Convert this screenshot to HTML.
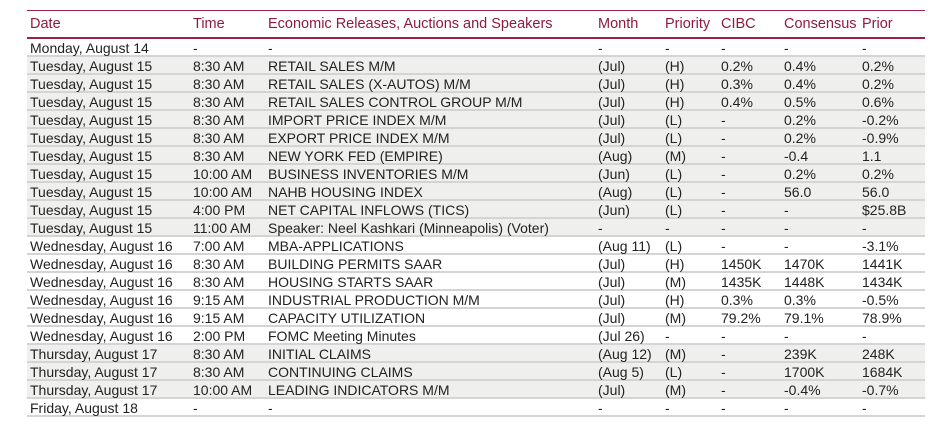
<!DOCTYPE html>
<html><head><meta charset="utf-8"><style>
body{margin:0;background:#fff;width:933px;height:431px;overflow:hidden;font-family:"Liberation Sans",sans-serif;}
.t{position:absolute;left:27px;top:10px;width:898px;border-top:1.5px solid #9b2246;}
.h{height:26px;border-bottom:2px solid #9b2246;position:relative;color:#8e1b3e;font-size:14.5px;}
.r{height:16px;border-bottom:2px solid #d4d4d4;position:relative;color:#222;font-size:14px;}
.g{background:#efefed;}
span{position:absolute;top:1px;white-space:nowrap;}
.h span{top:5px;}
.c1{left:3px}.c2{left:166px}.c3{left:241px}.c4{left:571px}.c5{left:638px}.c6{left:694px}.c7{left:757px}.c8{left:835px}
</style></head><body>
<div class="t">
<div class="h"><span class="c1">Date</span><span class="c2">Time</span><span class="c3">Economic Releases, Auctions and Speakers</span><span class="c4">Month</span><span class="c5">Priority</span><span class="c6">CIBC</span><span class="c7">Consensus</span><span class="c8">Prior</span></div>
<div class="r"><span class="c1">Monday, August 14</span><span class="c2">-</span><span class="c3">-</span><span class="c4">-</span><span class="c5">-</span><span class="c6">-</span><span class="c7">-</span><span class="c8">-</span></div>
<div class="r g"><span class="c1">Tuesday, August 15</span><span class="c2">8:30 AM</span><span class="c3">RETAIL SALES M/M</span><span class="c4">(Jul)</span><span class="c5">(H)</span><span class="c6">0.2%</span><span class="c7">0.4%</span><span class="c8">0.2%</span></div>
<div class="r g"><span class="c1">Tuesday, August 15</span><span class="c2">8:30 AM</span><span class="c3">RETAIL SALES (X-AUTOS) M/M</span><span class="c4">(Jul)</span><span class="c5">(H)</span><span class="c6">0.3%</span><span class="c7">0.4%</span><span class="c8">0.2%</span></div>
<div class="r g"><span class="c1">Tuesday, August 15</span><span class="c2">8:30 AM</span><span class="c3">RETAIL SALES CONTROL GROUP M/M</span><span class="c4">(Jul)</span><span class="c5">(H)</span><span class="c6">0.4%</span><span class="c7">0.5%</span><span class="c8">0.6%</span></div>
<div class="r g"><span class="c1">Tuesday, August 15</span><span class="c2">8:30 AM</span><span class="c3">IMPORT PRICE INDEX M/M</span><span class="c4">(Jul)</span><span class="c5">(L)</span><span class="c6">-</span><span class="c7">0.2%</span><span class="c8">-0.2%</span></div>
<div class="r g"><span class="c1">Tuesday, August 15</span><span class="c2">8:30 AM</span><span class="c3">EXPORT PRICE INDEX M/M</span><span class="c4">(Jul)</span><span class="c5">(L)</span><span class="c6">-</span><span class="c7">0.2%</span><span class="c8">-0.9%</span></div>
<div class="r g"><span class="c1">Tuesday, August 15</span><span class="c2">8:30 AM</span><span class="c3">NEW YORK FED (EMPIRE)</span><span class="c4">(Aug)</span><span class="c5">(M)</span><span class="c6">-</span><span class="c7">-0.4</span><span class="c8">1.1</span></div>
<div class="r g"><span class="c1">Tuesday, August 15</span><span class="c2">10:00 AM</span><span class="c3">BUSINESS INVENTORIES M/M</span><span class="c4">(Jun)</span><span class="c5">(L)</span><span class="c6">-</span><span class="c7">0.2%</span><span class="c8">0.2%</span></div>
<div class="r g"><span class="c1">Tuesday, August 15</span><span class="c2">10:00 AM</span><span class="c3">NAHB HOUSING INDEX</span><span class="c4">(Aug)</span><span class="c5">(L)</span><span class="c6">-</span><span class="c7">56.0</span><span class="c8">56.0</span></div>
<div class="r g"><span class="c1">Tuesday, August 15</span><span class="c2">4:00 PM</span><span class="c3">NET CAPITAL INFLOWS (TICS)</span><span class="c4">(Jun)</span><span class="c5">(L)</span><span class="c6">-</span><span class="c7">-</span><span class="c8">$25.8B</span></div>
<div class="r g"><span class="c1">Tuesday, August 15</span><span class="c2">11:00 AM</span><span class="c3">Speaker: Neel Kashkari (Minneapolis) (Voter)</span><span class="c4">-</span><span class="c5">-</span><span class="c6">-</span><span class="c7">-</span><span class="c8">-</span></div>
<div class="r"><span class="c1">Wednesday, August 16</span><span class="c2">7:00 AM</span><span class="c3">MBA-APPLICATIONS</span><span class="c4">(Aug 11)</span><span class="c5">(L)</span><span class="c6">-</span><span class="c7">-</span><span class="c8">-3.1%</span></div>
<div class="r"><span class="c1">Wednesday, August 16</span><span class="c2">8:30 AM</span><span class="c3">BUILDING PERMITS SAAR</span><span class="c4">(Jul)</span><span class="c5">(H)</span><span class="c6">1450K</span><span class="c7">1470K</span><span class="c8">1441K</span></div>
<div class="r"><span class="c1">Wednesday, August 16</span><span class="c2">8:30 AM</span><span class="c3">HOUSING STARTS SAAR</span><span class="c4">(Jul)</span><span class="c5">(M)</span><span class="c6">1435K</span><span class="c7">1448K</span><span class="c8">1434K</span></div>
<div class="r"><span class="c1">Wednesday, August 16</span><span class="c2">9:15 AM</span><span class="c3">INDUSTRIAL PRODUCTION M/M</span><span class="c4">(Jul)</span><span class="c5">(H)</span><span class="c6">0.3%</span><span class="c7">0.3%</span><span class="c8">-0.5%</span></div>
<div class="r"><span class="c1">Wednesday, August 16</span><span class="c2">9:15 AM</span><span class="c3">CAPACITY UTILIZATION</span><span class="c4">(Jul)</span><span class="c5">(M)</span><span class="c6">79.2%</span><span class="c7">79.1%</span><span class="c8">78.9%</span></div>
<div class="r"><span class="c1">Wednesday, August 16</span><span class="c2">2:00 PM</span><span class="c3">FOMC Meeting Minutes</span><span class="c4">(Jul 26)</span><span class="c5">-</span><span class="c6">-</span><span class="c7">-</span><span class="c8">-</span></div>
<div class="r g"><span class="c1">Thursday, August 17</span><span class="c2">8:30 AM</span><span class="c3">INITIAL CLAIMS</span><span class="c4">(Aug 12)</span><span class="c5">(M)</span><span class="c6">-</span><span class="c7">239K</span><span class="c8">248K</span></div>
<div class="r g"><span class="c1">Thursday, August 17</span><span class="c2">8:30 AM</span><span class="c3">CONTINUING CLAIMS</span><span class="c4">(Aug 5)</span><span class="c5">(L)</span><span class="c6">-</span><span class="c7">1700K</span><span class="c8">1684K</span></div>
<div class="r g"><span class="c1">Thursday, August 17</span><span class="c2">10:00 AM</span><span class="c3">LEADING INDICATORS M/M</span><span class="c4">(Jul)</span><span class="c5">(M)</span><span class="c6">-</span><span class="c7">-0.4%</span><span class="c8">-0.7%</span></div>
<div class="r"><span class="c1">Friday, August 18</span><span class="c2">-</span><span class="c3">-</span><span class="c4">-</span><span class="c5">-</span><span class="c6">-</span><span class="c7">-</span><span class="c8">-</span></div>
</div>
</body></html>
